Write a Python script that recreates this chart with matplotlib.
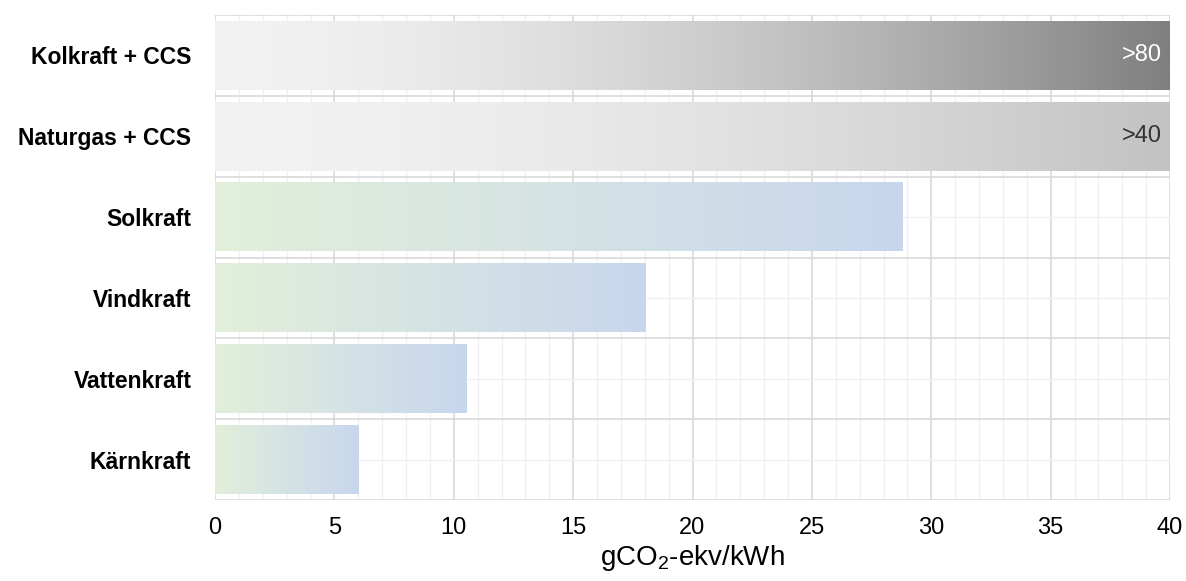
import numpy as np
import matplotlib
matplotlib.use("Agg")
import matplotlib.pyplot as plt
from matplotlib.colors import to_rgb

# ---- data ----
categories = ["Kolkraft + CCS", "Naturgas + CCS", "Solkraft", "Vindkraft", "Vattenkraft", "Kärnkraft"]
values = [40, 40, 28.8, 18.05, 10.55, 6.03]
value_labels = [">80", ">40", "", "", "", ""]
xticks = [0, 5, 10, 15, 20, 25, 30, 35, 40]
xlabel = "gCO$_2$-ekv/kWh"

# gradient styles per bar: (start colour, end colour, exponent)
styles = [("#f2f2f2", "#7f7f7f", 1.7),
          ("#f2f2f2", "#c2c2c2", 1.7),
          ("#e2efda", "#c8d6ee", 1.0),
          ("#e2efda", "#c8d6ee", 1.0),
          ("#e2efda", "#c8d6ee", 1.0),
          ("#e2efda", "#c8d6ee", 1.0)]
label_colors = ["white", "#333333"]

plt.rcParams['font.family'] = ['Liberation Sans', 'DejaVu Sans']
plt.rcParams['mathtext.fontset'] = 'custom'
plt.rcParams['mathtext.rm'] = 'Liberation Sans'

fig = plt.figure(figsize=(11.86, 5.81), dpi=100)
ax = fig.add_axes([215/1186, 1 - 500/581, (1170-215)/1186, (500-15)/581])

bar_h = 0.85
ypos = np.arange(len(categories))
for y, v, (c0, c1, p) in zip(ypos, values, styles):
    t = np.linspace(0, 1, 256) ** p
    a = np.array(to_rgb(c0)); b = np.array(to_rgb(c1))
    img = (a[None, :] * (1 - t[:, None]) + b[None, :] * t[:, None])[None, :, :]
    ax.imshow(img, extent=(0, v, y + bar_h/2, y - bar_h/2), aspect='auto',
              interpolation='bilinear', zorder=2)

for y, v, lab, col in zip(ypos, values, value_labels, label_colors + [None]*4):
    if lab:
        ax.annotate(lab, xy=(v, y), xytext=(-6, 0), textcoords='offset points',
                    ha='right', va='center', fontsize=17, color=col, zorder=3)

ax.set_xlim(0, 40)
ax.set_ylim(len(categories) - 0.5, -0.5)
ax.set_xticks(xticks)
ax.set_xticks(np.arange(0, 41, 1), minor=True)
ax.set_yticks(ypos)
ax.set_yticklabels(categories, fontsize=16.5, fontweight='bold')
ax.set_yticks(np.arange(-0.5, len(categories), 1), minor=True)
ax.tick_params(axis='x', which='both', length=0, labelsize=17, pad=12)
ax.tick_params(axis='y', which='both', length=0, pad=17)

ax.grid(True, axis='x', which='major', color='#d9d9d9', lw=1.2, zorder=0)
ax.grid(True, axis='x', which='minor', color='#f0f0f0', lw=1.0, zorder=0)
ax.grid(True, axis='y', which='minor', color='#d9d9d9', lw=1.2, zorder=0)
ax.grid(True, axis='y', which='major', color='#f0f0f0', lw=1.0, zorder=0)
ax.set_axisbelow(True)
for s in ax.spines.values():
    s.set_visible(False)

ax.set_xlabel(xlabel, fontsize=20, labelpad=3)

fig.savefig("out.png", dpi=100)
